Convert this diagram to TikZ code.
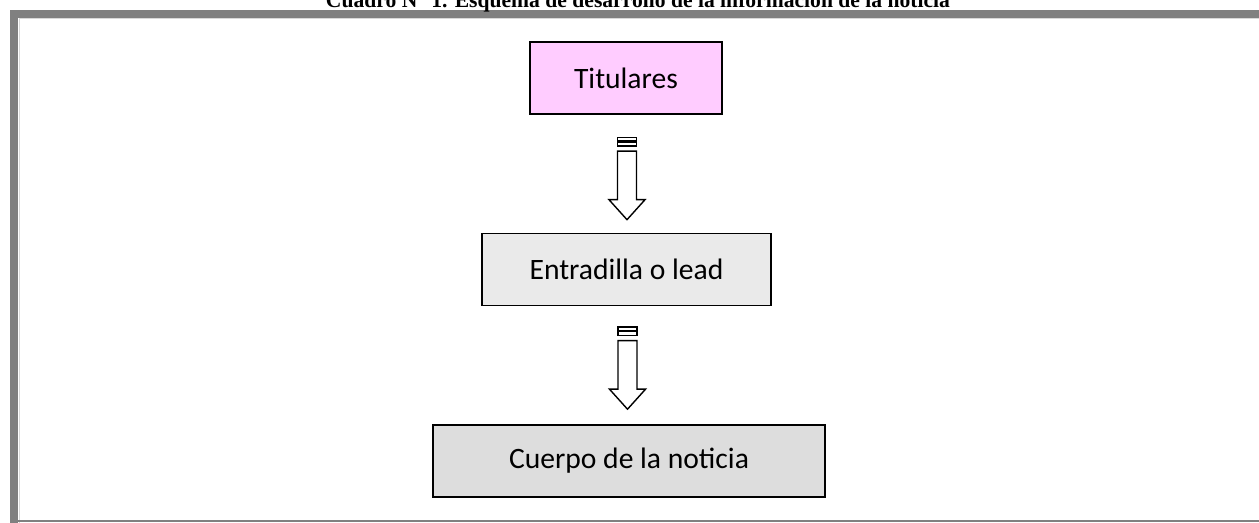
\documentclass[tikz,border=0pt]{standalone}
\usepackage{fontspec}
\setmainfont{Carlito}
\newfontfamily\captionfont{Liberation Serif}
\usetikzlibrary{calc}

\definecolor{framegray}{HTML}{808080}
\definecolor{titpink}{HTML}{FFCCFF}
\definecolor{leadgray}{HTML}{EAEAEA}
\definecolor{bodygray}{HTML}{DDDDDD}

\tikzset{
	box/.style={draw, line width=0.7pt, rectangle, minimum height=36pt, font=\fontsize{14.8}{17}\selectfont},
	hollow/.style={draw, line width=0.7pt, fill=white, line join=miter},
}

% flecha de bloque con franjas, apuntando hacia abajo
\newcommand{\stripedarrow}[1]{%
	\begin{scope}[shift={#1}]
		\draw[hollow] (-9.5,0) rectangle (9.5,3.5);
		\draw[hollow] (-9.5,4.5) rectangle (9.5,8.5);
		\draw[hollow] (-9.5,13.5) -- (-9.5,62) -- (-18,62) -- (0,82) -- (18,62) -- (9.5,62) -- (9.5,13.5) -- cycle;
	\end{scope}}

\begin{document}
\begin{tikzpicture}[x=0.5pt, y=-0.5pt]
	\useasboundingbox (0,0) rectangle (1259,523);
	% marco
	\fill[framegray] (10,10) rectangle (1259,18);
	\fill[framegray] (10,10) rectangle (18,523);
	\draw[black!15, line width=0.5pt] (19,19) -- (1259,19);
	\draw[black!15, line width=0.5pt] (19,19) -- (19,523);
	\draw[framegray, line width=1pt] (18,521.5) -- (1259,521.5);
	% titulo (cortado arriba)
	\node[font=\captionfont\bfseries\fontsize{10.8}{13}\selectfont, anchor=base, inner sep=0pt] (caption) at (638,8)
		{Cuadro N° 1. Esquema de desarrollo de la información de la noticia};

	\node[box, fill=titpink, minimum width=96pt] (tit) at (626,78) {Titulares};
	\node[box, fill=leadgray, minimum width=144.5pt] (lead) at (626.5,269.5) {Entradilla o lead};
	\node[box, fill=bodygray, minimum width=196pt] (cuerpo) at (629,461) {Cuerpo de la noticia};

	\stripedarrow{($(tit.south)+(1,23)$)}
	\stripedarrow{($(lead.south)+(1,21)$)}
\end{tikzpicture}
\end{document}
